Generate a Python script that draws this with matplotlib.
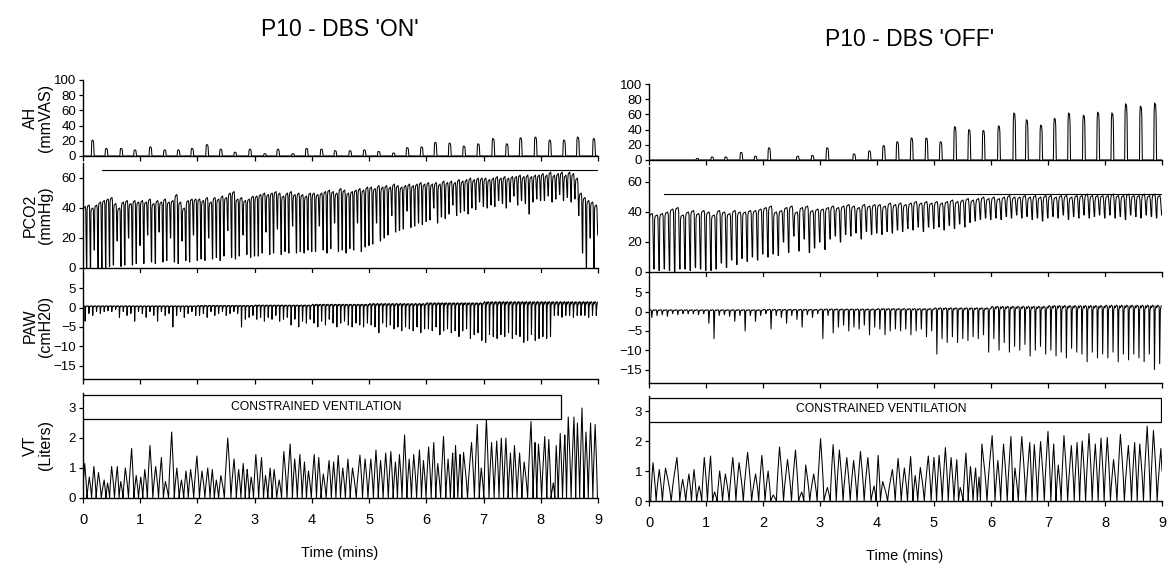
import numpy as np
import matplotlib
matplotlib.use("Agg")
import matplotlib.pyplot as plt
from matplotlib.patches import Rectangle

# ----------------------------
# Data
# ----------------------------
TITLES = ["P10 - DBS 'ON'", "P10 - DBS 'OFF'"]
YLABELS = ["AH\n(mmVAS)", "PCO2\n(mmHg)", "PAW\n(cmH20)", "VT\n(Liters)"]
BOX_TEXT = "CONSTRAINED VENTILATION"
XTICKS = list(range(10))

# air hunger ratings: pulse time (min) and peak (mmVAS)
AH_ON_T = [0.17, 0.41, 0.67, 0.91, 1.18, 1.43, 1.67, 1.91, 2.17, 2.41, 2.66, 2.92,
           3.18, 3.41, 3.67, 3.91, 4.17, 4.41, 4.67, 4.92, 5.17, 5.43, 5.67, 5.92,
           6.16, 6.41, 6.66, 6.91, 7.17, 7.41, 7.65, 7.91, 8.16, 8.41, 8.65, 8.93]
AH_ON = [21, 10, 10, 8, 12, 8, 8, 10, 15, 9, 5, 9,
         3, 9, 3, 10, 9, 7, 7, 8, 6, 4, 11, 12,
         18, 17, 13, 16, 23, 16, 24, 25, 21, 21, 25, 23]
AH_OFF_T = [0.85, 1.11, 1.35, 1.62, 1.87, 2.11, 2.61, 2.87, 3.13, 3.60, 3.87, 4.12,
            4.36, 4.61, 4.87, 5.12, 5.37, 5.62, 5.87, 6.14, 6.41, 6.63, 6.88, 7.12,
            7.37, 7.63, 7.88, 8.13, 8.37, 8.63, 8.88]
AH_OFF = [2, 4, 4, 10, 5, 16, 5, 6, 16, 8, 12, 19,
          24, 29, 29, 24, 44, 40, 39, 45, 62, 53, 46, 55,
          62, 59, 63, 62, 74, 71, 75]

# end-tidal CO2: breaths per minute, per-breath plateau / trough (mmHg)
PCO2_ON_N = [15, 15, 15, 15, 15, 15, 15, 15, 15]
PCO2_ON_HI = [41, 42, 40, 42, 44, 45, 46, 47, 43, 40, 44, 45, 43, 45, 44,
              45, 44, 46, 43, 45, 44, 46, 44, 45, 49, 44, 40, 45, 46, 46,
              46, 45, 47, 44, 47, 46, 48, 47, 50, 51, 46, 47, 45, 46, 48,
              48, 49, 50, 49, 50, 51, 50, 48, 50, 51, 49, 50, 49, 48, 50,
              50, 49, 50, 51, 52, 51, 50, 53, 52, 50, 51, 52, 53, 52, 54,
              54, 53, 55, 54, 55, 54, 56, 55, 54, 55, 56, 55, 56, 57, 56,
              57, 56, 57, 56, 58, 57, 58, 57, 59, 58, 59, 60, 59, 60, 60,
              60, 59, 60, 61, 60, 61, 60, 61, 61, 62, 61, 62, 61, 62, 62,
              63, 62, 64, 62, 63, 64, 62, 64, 63, 60, 50, 47, 45, 44, 42]
PCO2_ON_LO = [0, 0, 12, 0, 0, 0, 1, 2, 18, 1, 2, 20, 2, 3, 15,
              3, 22, 4, 3, 24, 4, 5, 20, 4, 3, 18, 5, 4, 22, 5,
              6, 5, 20, 6, 7, 5, 8, 25, 7, 6, 8, 22, 9, 7, 8,
              8, 10, 24, 9, 10, 26, 9, 11, 10, 28, 10, 11, 10, 12, 11,
              11, 28, 12, 10, 13, 30, 11, 12, 10, 13, 12, 30, 11, 14, 15,
              16, 30, 18, 20, 22, 35, 24, 25, 26, 38, 27, 28, 30, 29, 31,
              32, 40, 30, 34, 33, 36, 42, 35, 37, 38, 36, 40, 39, 44, 41,
              40, 42, 41, 45, 43, 40, 44, 48, 42, 45, 43, 36, 44, 46, 45,
              45, 48, 44, 46, 49, 45, 47, 44, 46, 35, 10, 0, 20, 0, 22]
PCO2_OFF_N = [11, 11, 11, 11, 11, 11, 11, 11, 11]
PCO2_OFF_HI = [39, 38, 39, 40, 42, 43, 38, 40, 41, 39, 41,
               40, 38, 41, 40, 39, 41, 40, 40, 41, 41, 42,
               43, 44, 40, 41, 43, 44, 40, 43, 44, 41, 42,
               42, 43, 44, 43, 44, 45, 44, 43, 45, 44, 45,
               45, 44, 46, 45, 46, 45, 46, 47, 46, 47, 46,
               47, 46, 47, 48, 47, 48, 49, 48, 49, 50, 49,
               50, 49, 50, 51, 50, 50, 51, 50, 51, 50, 51,
               51, 50, 51, 51, 50, 51, 51, 52, 51, 51, 51,
               51, 52, 51, 51, 52, 51, 51, 52, 51, 52, 51]
PCO2_OFF_LO = [2, 1, 2, 1, 0, 2, 2, 1, 3, 2, 1,
               1, 2, 6, 3, 8, 5, 9, 7, 10, 8, 12,
               10, 12, 11, 20, 13, 24, 14, 22, 13, 16, 20,
               15, 22, 24, 20, 25, 24, 26, 22, 27, 25, 26,
               25, 27, 26, 28, 27, 29, 28, 30, 27, 30, 29,
               30, 28, 31, 29, 32, 30, 33, 34, 35, 36, 35,
               36, 35, 37, 36, 38, 36, 37, 35, 36, 34, 36,
               37, 36, 38, 35, 37, 36, 38, 36, 37, 38, 36,
               38, 36, 37, 35, 38, 37, 36, 38, 37, 36, 38]
PCO2_REF = [65, 52]          # horizontal reference level
PCO2_REF_START = [0.33, 0.26]

# airway pressure: per-minute baseline, per-breath inspiratory dip (cmH2O)
PAW_ON_HI = [0.5, 0.5, 0.6, 0.7, 0.9, 1.1, 1.3, 1.6, 1.6]
PAW_ON_LO = [-3.5, -1.5, -2, -1, -1.5, -1, -0.8, -1, -0.5, -2.5, -1, -2, -1.5, -3.5, -1,
             -1.5, -2.5, -1, -2, -3.5, -1, -2, -1.5, -5, -2, -1, -2.5, -1.5, -1, -2,
             -2, -1.5, -2.5, -1, -2, -1.5, -1, -2, -1.5, -1, -1.5, -5, -3, -2.5, -2,
             -3, -2.5, -3.5, -2.5, -3, -2, -3.5, -3, -2.5, -4.5, -3, -5, -3.5, -4, -3,
             -4, -5, -3.5, -4.5, -3, -4, -5, -4, -3.5, -4.5, -5, -4, -4.5, -5, -4,
             -4.5, -5, -6.5, -4, -5, -4.5, -5.5, -5, -6, -5, -5.5, -6, -5, -6.5, -5.5,
             -5.5, -6, -5, -7, -6, -5.5, -6.5, -6, -7.5, -6, -5.5, -8, -7, -6.5, -8.5,
             -9, -7, -7.5, -8, -7, -7.5, -6.5, -8, -7, -7.5, -9, -8.5, -7, -8.5, -8,
             -7.5, -8, -7.5, -2, -2, -2.5, -2, -2, -2.5, -2, -2, -2, -2.5, -2, -2]
PAW_OFF_HI = [0.5, 0.5, 0.6, 0.7, 0.8, 1.0, 1.4, 1.6, 1.7]
PAW_OFF_LO = [-1.5, -1, -0.8, -1.2, -0.5, -0.8, -0.5, -0.6, -0.5, -0.8, -0.5,
              -3, -7, -1, -0.8, -1.2, -2.5, -1, -5, -1, -2.5, -1,
              -0.5, -4.5, -1, -1.5, -3, -1, -2, -4, -0.8, -1.5, -0.5,
              -7, -1, -5.5, -4, -3.5, -5, -4, -4.5, -3.5, -6, -4,
              -4.5, -6, -5, -4.5, -5, -4.5, -6, -5, -4.5, -6.5, -5,
              -11, -7, -8, -6.5, -8, -7, -7.5, -6.5, -7, -6, -10.5,
              -7, -10, -8, -10.5, -9, -10, -8.5, -11.5, -10, -9, -11,
              -10, -11.5, -10.5, -12, -9.5, -10.5, -11, -13, -10.5, -12, -11,
              -12, -10.5, -13, -11, -12.5, -11, -12, -13, -11, -15, -13.5]

# tidal volume: peak time (min) and volume (L)
VT_ON_T = [0.03, 0.11, 0.19, 0.27, 0.37, 0.43, 0.50, 0.60, 0.66, 0.74, 0.85, 0.93,
           1.01, 1.08, 1.17, 1.27, 1.37, 1.44, 1.55, 1.64, 1.72, 1.80, 1.88, 1.99,
           2.08, 2.18, 2.26, 2.33, 2.41, 2.53, 2.64, 2.72, 2.80, 2.87, 2.94,
           3.02, 3.12, 3.19, 3.27, 3.34, 3.43, 3.51, 3.62, 3.70, 3.79, 3.87, 3.94,
           4.04, 4.12, 4.20, 4.30, 4.38, 4.46, 4.54, 4.63, 4.71, 4.84, 4.93,
           5.03, 5.12, 5.20, 5.29, 5.38, 5.46, 5.53, 5.62, 5.70, 5.78, 5.88, 5.95,
           6.04, 6.13, 6.20, 6.30, 6.38, 6.46, 6.51, 6.59, 6.65, 6.79, 6.89, 6.96,
           7.05, 7.14, 7.23, 7.31, 7.39, 7.47, 7.54, 7.63, 7.71, 7.83, 7.90, 7.96,
           8.07, 8.14, 8.22, 8.27, 8.34, 8.42, 8.48, 8.58, 8.64, 8.72, 8.79, 8.87, 8.95]
VT_ON = [1.15, 0.7, 1.05, 0.85, 0.6, 0.5, 1.05, 1.05, 0.55, 1.0, 1.65, 0.75,
         0.7, 0.95, 1.75, 1.05, 1.35, 0.55, 2.2, 1.0, 0.6, 0.9, 0.95, 1.4,
         0.9, 1.0, 0.95, 0.6, 0.75, 2.0, 1.3, 0.95, 1.15, 0.95, 0.7,
         1.45, 1.35, 0.75, 1.0, 0.95, 0.6, 1.55, 1.8, 1.3, 1.45, 1.2, 0.9,
         1.45, 1.35, 0.8, 1.25, 1.2, 1.42, 1.0, 1.3, 1.0, 1.43, 1.3,
         1.3, 1.6, 1.25, 1.5, 1.55, 1.2, 1.45, 2.1, 1.3, 1.45, 1.6, 1.25,
         1.7, 1.85, 1.15, 2.05, 1.3, 1.5, 1.75, 1.45, 1.52, 1.85, 2.45, 1.0,
         2.65, 1.85, 1.9, 2.0, 2.0, 1.5, 1.75, 1.5, 1.2, 2.55, 1.85, 1.8,
         2.05, 1.95, 0.5, 1.75, 2.15, 2.1, 2.7, 2.7, 2.5, 3.0, 2.2, 2.5, 2.45]
VT_OFF_T = [0.07, 0.18, 0.29, 0.49, 0.59, 0.70, 0.79, 0.88, 0.97,
            1.08, 1.15, 1.24, 1.34, 1.47, 1.58, 1.73, 1.87, 1.98,
            2.09, 2.18, 2.29, 2.43, 2.57, 2.68, 2.75, 2.89,
            3.01, 3.13, 3.23, 3.34, 3.47, 3.59, 3.71, 3.84, 3.95,
            4.02, 4.10, 4.27, 4.37, 4.48, 4.59, 4.67, 4.76, 4.90,
            5.00, 5.09, 5.20, 5.30, 5.40, 5.46, 5.56, 5.64, 5.73, 5.79, 5.84,
            6.02, 6.12, 6.22, 6.35, 6.42, 6.54, 6.68, 6.76, 6.87,
            7.00, 7.10, 7.18, 7.28, 7.41, 7.51, 7.60, 7.72, 7.83, 7.93,
            8.04, 8.15, 8.27, 8.41, 8.52, 8.61, 8.74, 8.85, 8.98]
VT_OFF = [1.28, 1.05, 1.1, 1.45, 0.72, 0.9, 1.05, 0.5, 1.45,
          1.5, 0.3, 1.0, 0.9, 1.45, 1.28, 1.62, 0.9, 1.52,
          1.0, 0.2, 1.8, 1.38, 1.7, 0.3, 1.2, 0.9,
          2.08, 0.45, 1.88, 1.7, 1.45, 1.35, 1.65, 1.45, 0.5,
          1.52, 0.65, 1.05, 1.42, 1.1, 1.48, 0.85, 1.12, 1.5,
          1.45, 1.52, 1.78, 1.45, 1.38, 0.45, 1.6, 1.15, 1.1, 0.8, 1.9,
          2.18, 1.35, 1.9, 2.15, 1.1, 2.15, 1.95, 1.88, 1.98,
          2.32, 1.9, 1.2, 2.18, 1.85, 1.95, 2.0, 2.25, 1.9, 2.1,
          2.12, 1.38, 2.22, 1.85, 1.95, 1.9, 2.5, 2.35, 1.75]
BOX_END = [8.36, 8.98]       # end of constrained-ventilation bar (min)

# ----------------------------
# Style / layout
# ----------------------------
plt.rcParams.update({
    "font.family": ["Liberation Sans", "DejaVu Sans"],
    "font.size": 9.5,
    "axes.linewidth": 1.0,
    "xtick.direction": "out",
    "ytick.direction": "out",
    "xtick.major.size": 3.5,
    "ytick.major.size": 3.0,
    "xtick.major.width": 0.9,
    "ytick.major.width": 0.9,
})
W, H = 1174, 565
TRACE = dict(color="black", lw=0.75)

# pixel boxes: (x0, x1) per column, (top, bottom) for AH, PCO2, PAW, VT
COLS = [(83, 598), (649, 1162)]
ROWS = [[(80, 156), (163, 268), (273, 379), (393, 498)],
        [(84, 160), (167, 272), (277, 383), (396, 501)]]
YLIMS = [(0, 100), (0, 70), (-18.5, 9), (0, 3.5)]
YTICKS = [range(0, 101, 20), range(0, 61, 20), range(-15, 6, 5), range(0, 4)]
TITLE_XY = [(340, 30), (910, 40)]
XLABEL_XY = [(340, 553), (905, 556)]


def rect(x0, x1, top, bottom):
    return [x0 / W, 1 - bottom / H, (x1 - x0) / W, (bottom - top) / H]


# ----------------------------
# Trace builders
# ----------------------------
def ah_trace(times, peaks):
    t, y = [0.0], [0.0]
    for tp, p in zip(times, peaks):
        for dt, f in [(-0.025, 0), (-0.018, 0.85), (-0.01, 1.0), (0.008, 0.97),
                      (0.016, 0.8), (0.025, 0)]:
            t.append(tp + dt)
            y.append(p * f)
    t.append(9.0)
    y.append(0.0)
    return np.array(t), np.array(y)


def pco2_trace(counts, hi, lo):
    t, y = [], []
    i = 0
    prev = lo[0]
    for m, n in enumerate(counts):
        T = 1.0 / n
        for k in range(n):
            t0 = m + k * T
            h, l = hi[i], lo[i]
            for ph, v in [(0.0, prev), (0.08, 0.92 * h), (0.2, 0.98 * h),
                          (0.6, h), (0.72, 0.95 * h), (0.92, l)]:
                t.append(t0 + ph * T)
                y.append(v)
            prev = l
            i += 1
    return np.array(t), np.array(y)


def paw_trace(counts, base, lo):
    t, y = [], []
    i = 0
    for m, n in enumerate(counts):
        T = 1.0 / n
        b = base[m]
        for k in range(n):
            t0 = m + k * T
            for ph, v in [(0.0, 0.6 * b), (0.2, b), (0.45, 0.8 * b),
                          (0.55, lo[i]), (0.68, 0.2 * b), (0.85, 0.9 * b)]:
                t.append(t0 + ph * T)
                y.append(v)
            i += 1
    return np.array(t), np.array(y)


def vt_trace(times, peaks):
    times = np.asarray(times)
    t, y = [], []
    for j, (tp, p) in enumerate(zip(times, peaks)):
        gl = tp - times[j - 1] if j > 0 else 0.08
        gr = times[j + 1] - tp if j < len(times) - 1 else 0.08
        wl, wr = 0.5 * gl, 0.5 * gr
        for u in np.linspace(-1, 1, 9):
            w = wl if u < 0 else wr
            t.append(tp + u * w)
            y.append(p * (1 - abs(u)) ** 0.8)
    t, y = np.array(t), np.array(y)
    keep = (t >= 0) & (t <= 9)
    return t[keep], y[keep]


# PAW breaths follow the PCO2 breath counts
traces = [
    [ah_trace(AH_ON_T, AH_ON),
     pco2_trace(PCO2_ON_N, PCO2_ON_HI, PCO2_ON_LO),
     paw_trace(PCO2_ON_N, PAW_ON_HI, PAW_ON_LO),
     vt_trace(VT_ON_T, VT_ON)],
    [ah_trace(AH_OFF_T, AH_OFF),
     pco2_trace(PCO2_OFF_N, PCO2_OFF_HI, PCO2_OFF_LO),
     paw_trace(PCO2_OFF_N, PAW_OFF_HI, PAW_OFF_LO),
     vt_trace(VT_OFF_T, VT_OFF)],
]

# ----------------------------
# Figure
# ----------------------------
fig = plt.figure(figsize=(W / 100, H / 100), dpi=100)

for c, (x0, x1) in enumerate(COLS):
    for r, (top, bottom) in enumerate(ROWS[c]):
        ax = fig.add_axes(rect(x0, x1, top, bottom))
        t, y = traces[c][r]
        ax.plot(t, y, **TRACE)
        ax.set_xlim(0, 9)
        ax.set_ylim(*YLIMS[r])
        ax.set_yticks(list(YTICKS[r]))
        ax.set_xticks(XTICKS)
        for s in ("top", "right"):
            ax.spines[s].set_visible(False)
        ax.tick_params(axis="y", labelsize=9.5, pad=2)
        if r < 3:
            ax.tick_params(labelbottom=False)
        else:
            ax.tick_params(axis="x", labelsize=10.5, pad=7)
        if c == 0:
            ax.set_ylabel(YLABELS[r], fontsize=11.5, linespacing=1.05)
            ax.yaxis.set_label_coords(-0.058, 0.5)

        if r == 1:
            ax.plot([PCO2_REF_START[c], 9], [PCO2_REF[c]] * 2, color="black", lw=0.8)
        if r == 3:
            ax.add_patch(Rectangle((0, 2.65), BOX_END[c], 0.8, facecolor="white",
                                   edgecolor="black", lw=0.9, zorder=3))
            ax.text(4.07, 3.05, BOX_TEXT, ha="center", va="center", fontsize=8.7,
                    zorder=4)

    fig.text(TITLE_XY[c][0] / W, 1 - TITLE_XY[c][1] / H, TITLES[c],
             ha="center", va="center", fontsize=16.5)
    fig.text(XLABEL_XY[c][0] / W, 1 - XLABEL_XY[c][1] / H, "Time (mins)",
             ha="center", va="center", fontsize=10.5)

fig.savefig("out.png", dpi=100)
